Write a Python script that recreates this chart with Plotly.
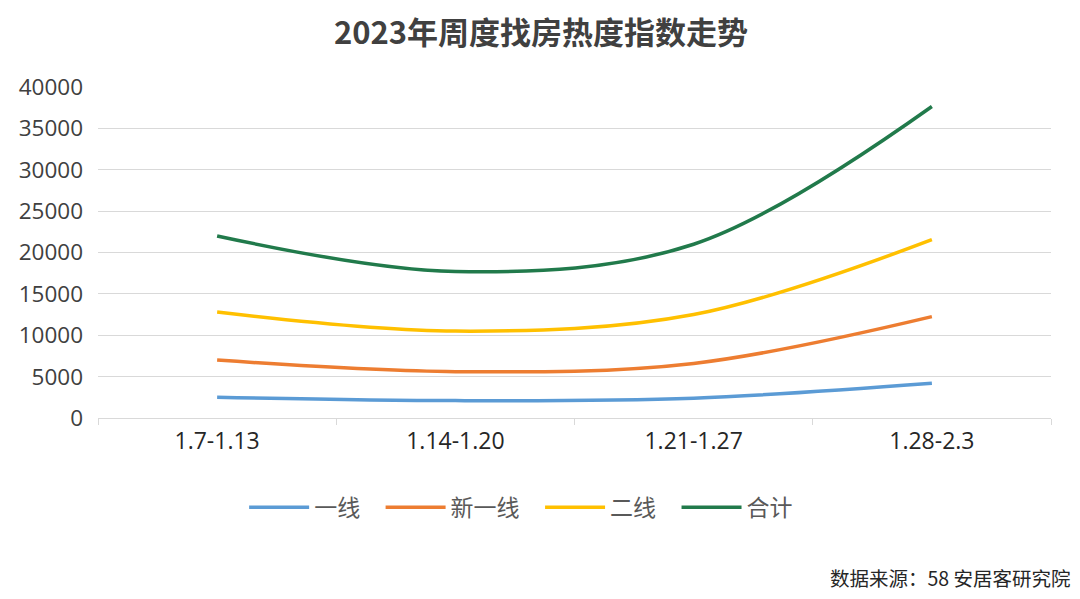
import plotly.graph_objects as go

categories = ["1.7-1.13", "1.14-1.20", "1.21-1.27", "1.28-2.3"]
tier1 = [2500, 2100, 2400, 4200]
new_tier1 = [7000, 5600, 6600, 12250]
tier2 = [12800, 10500, 12500, 21550]
total = [22000, 17700, 21000, 37650]

series = [
    ("一线", tier1, "#5B9BD5"),
    ("新一线", new_tier1, "#ED7D31"),
    ("二线", tier2, "#FFC000"),
    ("合计", total, "#217A4B"),
]

FONT = "Noto Sans CJK SC"
NUM = "Open Sans"
PAD = "\u00a0" * 3
fig = go.Figure()
for i, (name, vals, color) in enumerate(series):
    label = name + (PAD if i < len(series) - 1 else "")
    fig.add_trace(go.Scatter(
        x=categories, y=vals, name=label, mode="lines",
        line=dict(color=color, width=3.5, shape="spline", smoothing=1.0),
    ))

fig.update_layout(
    width=1080, height=599,
    paper_bgcolor="white", plot_bgcolor="white",
    margin=dict(l=90, r=37, t=79, b=189),
    font=dict(family=FONT, color="#595959", size=18),
    title=dict(text="<b>2023年周度找房热度指数走势</b>", x=533 / 1080, xanchor="center",
               y=0.958, yanchor="middle", font=dict(size=31, color="#404040", family=FONT)),
    showlegend=True,
    legend=dict(orientation="h", x=0.444, xanchor="center", y=-0.27, yanchor="middle",
                font=dict(size=23, color="#595959", family=FONT), itemwidth=60,
                traceorder="normal"),
    xaxis=dict(
        type="category", range=[-0.5, 3.5], showgrid=False,
        showline=True, linecolor="#D9D9D9", linewidth=1,
        ticks="outside", tickson="boundaries", tickcolor="#D9D9D9", ticklen=6,
        tickfont=dict(size=23, color="#262626", family=NUM), fixedrange=True,
        ticklabelstandoff=2,
    ),
    yaxis=dict(
        range=[0, 40000], dtick=5000, showgrid=True, gridcolor="#D9D9D9", gridwidth=1,
        zeroline=False, showline=False, tickformat="d",
        ticklabelstandoff=14,
        tickfont=dict(size=22.5, color="#404040", family=NUM),
    ),
)

fig.add_annotation(text="数据来源：58 安居客研究院", xref="paper", yref="paper",
                   x=1.023, y=-0.483, xanchor="right", yanchor="middle", showarrow=False,
                   font=dict(size=19.5, color="#262626", family=FONT))

fig.write_html("out.html")
